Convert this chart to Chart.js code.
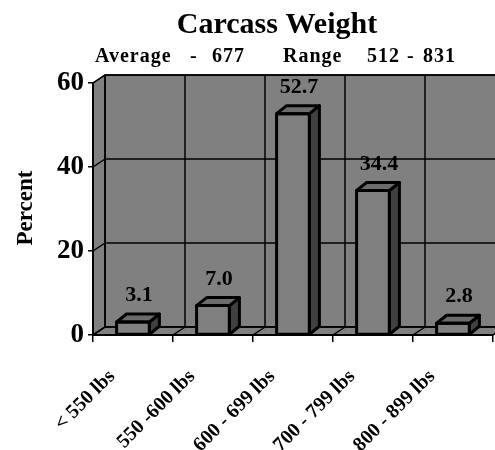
<!DOCTYPE html>
<html><head><meta charset="utf-8">
<script src="https://cdn.jsdelivr.net/npm/chart.js@4"></script>
<style>html,body{margin:0;padding:0;background:#fff}canvas{display:block}</style>
</head><body>
<canvas id="c" width="495" height="450"></canvas>
<script>
const categories = ['< 550 lbs', '550 -600 lbs', '600 - 699 lbs', '700 - 799 lbs', '800 - 899 lbs'];
const percentValues = [3.1, 7.0, 52.7, 34.4, 2.8];
const yTicks = [0, 20, 40, 60];
const titleText = 'Carcass Weight';
const subtitleParts = ['Average', '-', '677', 'Range', '512', '-', '831'];
const yAxisTitle = 'Percent';

const FONT = '"Liberation Serif","Times New Roman",serif';
const DX = 12, DY = -8;     // wall depth
const BDX = 10, BDY = -8;   // bar depth
const subtitleX = [95, 190, 212, 283, 367, 407, 423];

function poly(ctx, pts) {
  ctx.beginPath();
  ctx.moveTo(pts[0][0], pts[0][1]);
  for (let i = 1; i < pts.length; i++) ctx.lineTo(pts[i][0], pts[i][1]);
  ctx.closePath();
}
function line(ctx, x1, y1, x2, y2) {
  ctx.beginPath(); ctx.moveTo(x1, y1); ctx.lineTo(x2, y2); ctx.stroke();
}

const threeD = {
  id: 'threeD',
  beforeDatasetsDraw(chart) {
    const { ctx, chartArea: a, scales: { y } } = chart;
    const n = categories.length;
    const cw = (a.right - a.left) / n;
    ctx.save();
    ctx.fillStyle = '#808080';
    ctx.strokeStyle = '#000';
    ctx.lineWidth = 1.5;
    ctx.lineJoin = 'round';
    ctx.beginPath();
    ctx.rect(a.left + DX, a.top + DY, a.right - a.left, a.bottom - a.top);
    ctx.fill(); ctx.stroke();
    poly(ctx, [[a.left, a.top], [a.left + DX, a.top + DY], [a.left + DX, a.bottom + DY], [a.left, a.bottom]]);
    ctx.fill(); ctx.stroke();
    poly(ctx, [[a.left, a.bottom], [a.right, a.bottom], [a.right + DX, a.bottom + DY], [a.left + DX, a.bottom + DY]]);
    ctx.fill(); ctx.stroke();
    yTicks.forEach(v => {
      const py = y.getPixelForValue(v);
      line(ctx, a.left, py, a.left + DX, py + DY);
      line(ctx, a.left + DX, py + DY, a.right + DX, py + DY);
    });
    for (let i = 0; i <= n; i++) {
      const bx = a.left + i * cw;
      line(ctx, bx + DX, a.top + DY, bx + DX, a.bottom + DY);
      line(ctx, bx, a.bottom, bx + DX, a.bottom + DY);
    }
    ctx.lineWidth = 2;
    line(ctx, a.left, a.top, a.left, a.bottom);
    line(ctx, a.left, a.bottom, a.right, a.bottom);
    ctx.restore();
  },
  afterDatasetsDraw(chart) {
    const { ctx } = chart;
    const meta = chart.getDatasetMeta(0);
    ctx.save();
    ctx.strokeStyle = '#000';
    ctx.lineWidth = 3;
    ctx.lineJoin = 'round';
    meta.data.forEach((bar, i) => {
      const xl = bar.x - bar.width / 2, xr = bar.x + bar.width / 2;
      const yt = bar.y, yb = bar.base;
      poly(ctx, [[xr, yt], [xr + BDX, yt + BDY], [xr + BDX, yb + BDY], [xr, yb]]);
      ctx.fillStyle = '#404040'; ctx.fill(); ctx.stroke();
      poly(ctx, [[xl, yt], [xr, yt], [xr + BDX, yt + BDY], [xl + BDX, yt + BDY]]);
      ctx.fillStyle = '#6c6c6c'; ctx.fill(); ctx.stroke();
      ctx.beginPath(); ctx.rect(xl, yt, xr - xl, yb - yt); ctx.stroke();
      ctx.fillStyle = '#000';
      ctx.font = 'bold 22px ' + FONT;
      ctx.textAlign = 'center';
      ctx.textBaseline = 'alphabetic';
      ctx.fillText(percentValues[i].toFixed(1), bar.x + 6, yt - 21);
    });
    ctx.restore();
  },
  afterDraw(chart) {
    const { ctx } = chart;
    ctx.save();
    ctx.fillStyle = '#000';
    ctx.textBaseline = 'alphabetic';
    ctx.font = 'bold 30px ' + FONT;
    ctx.textAlign = 'center';
    ctx.fillText(titleText, 277, 33);
    ctx.font = 'bold 20px ' + FONT;
    ctx.textAlign = 'left';
    try { ctx.letterSpacing = '1px'; } catch (e) {}
    subtitleParts.forEach((t, i) => ctx.fillText(t, subtitleX[i], 62));
    try { ctx.letterSpacing = '0px'; } catch (e) {}
    ctx.translate(32, 208);
    ctx.rotate(-Math.PI / 2);
    ctx.font = 'bold 23px ' + FONT;
    ctx.textAlign = 'center';
    ctx.fillText(yAxisTitle, 0, 0);
    ctx.restore();
  }
};

new Chart(document.getElementById('c'), {
  type: 'bar',
  data: {
    labels: categories,
    datasets: [{
      data: percentValues,
      backgroundColor: '#808080',
      borderWidth: 0,
      barPercentage: 0.41,
      categoryPercentage: 1.0
    }]
  },
  options: {
    responsive: false,
    animation: false,
    devicePixelRatio: 1,
    layout: { padding: { top: 83, right: 2, left: 0, bottom: 0 } },
    plugins: { legend: { display: false }, title: { display: false }, tooltip: { enabled: false } },
    scales: {
      y: {
        min: 0, max: 60,
        afterFit(s) { s.width = 93; },
        afterBuildTicks(s) { s.ticks = yTicks.map(v => ({ value: v })); },
        ticks: { color: '#000', font: { family: FONT, size: 27, weight: 'bold' }, padding: 4 },
        grid: { drawOnChartArea: false, drawTicks: true, tickLength: 5, color: '#000', lineWidth: 1.5 },
        border: { display: false }
      },
      x: {
        afterFit(s) { s.height = 115; },
        ticks: {
          color: '#000', font: { family: FONT, size: 20, weight: 'bold' },
          minRotation: 45, maxRotation: 45, autoSkip: false,
          labelOffset: -21, padding: 23
        },
        grid: { drawOnChartArea: false, drawTicks: true, tickLength: 7, color: '#000', lineWidth: 1.5, offset: true },
        border: { display: false }
      }
    }
  },
  plugins: [threeD]
});
</script>
</body></html>
